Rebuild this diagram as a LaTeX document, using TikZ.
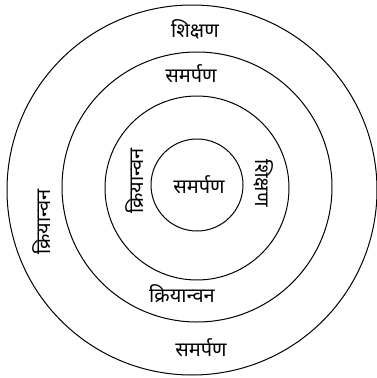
\documentclass[tikz,border=0pt]{standalone}
\usepackage{fontspec}
\newfontfamily\deva[Script=Devanagari]{Noto Sans}
\begin{document}
\begin{tikzpicture}[x=1pt,y=-1pt,
  ring/.style={draw=black, line width=1pt, circle, inner sep=0pt},
  lbl/.style={font=\deva\fontsize{20}{20}\selectfont, inner sep=0pt}]
\useasboundingbox (0,0) rectangle (376,378);
\node[ring, minimum size=370pt] (c4) at (192,190) {};
\node[ring, minimum size=270pt] (c3) at (197,187) {};
\node[ring, minimum size=184pt] (c2) at (197,188) {};
\node[ring, minimum size=92pt]  (c1) at (197,185) {};
\node[lbl] (t1) at (195,29) {शिक्षण};
\node[lbl] (t2) at (191,74) {समर्पण};
\node[lbl] (t3) at (199,185) {समर्पण};
\node[lbl, rotate=90] (t4) at (135,181) {क्रियान्वन};
\node[lbl, rotate=-90] (t5) at (264,183) {शिक्षण};
\node[lbl, rotate=90] (t6) at (42,222) {क्रियान्वन};
\node[lbl] (t7) at (182,294) {क्रियान्वन};
\node[lbl] (t8) at (201,348) {समर्पण};
\end{tikzpicture}
\end{document}
